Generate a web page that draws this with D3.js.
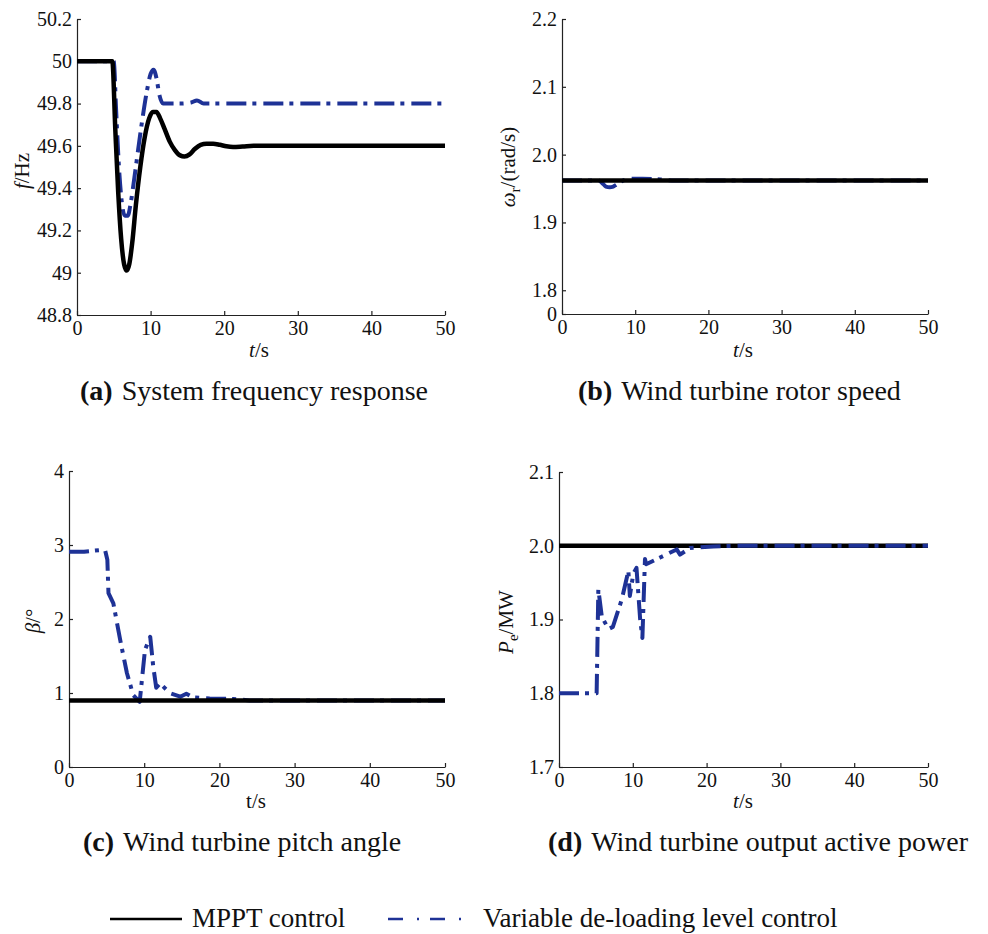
<!DOCTYPE html>
<html>
<head>
<meta charset="utf-8">
<script src="https://cdn.jsdelivr.net/npm/d3@7"></script>
<style>
  body { margin: 0; background: #fff; }
  text { font-family: "Liberation Serif", "Times New Roman", serif; fill: #111; }
</style>
</head>
<body>
<div class="graph"></div>
<script>
// tick values
let timeTicks = [0, 10, 20, 30, 40, 50]
let freqTicks = [48.8, 49, 49.2, 49.4, 49.6, 49.8, 50, 50.2]
let speedTicks = [1.765, 1.8, 1.9, 2.0, 2.1, 2.2]
let pitchTicks = [0, 1, 2, 3, 4]
let powerTicks = [1.7, 1.8, 1.9, 2.0, 2.1]

// (a) system frequency
let freqMpptT = [0, 4.8, 5.2, 5.6, 6.0, 6.4, 6.75, 7.1, 7.5, 8.0, 8.6, 9.2, 9.8, 10.3, 10.8, 11.3, 11.9, 12.6, 13.3, 14.0, 14.6, 15.3, 16.0, 16.8, 17.6, 18.5, 19.4, 20.3, 21.2, 22.5, 24, 30, 40, 50]
let freqMpptV = [50, 50, 49.68, 49.38, 49.16, 49.04, 49.01, 49.04, 49.14, 49.32, 49.50, 49.64, 49.73, 49.76, 49.76, 49.73, 49.68, 49.62, 49.58, 49.555, 49.55, 49.56, 49.585, 49.605, 49.61, 49.61, 49.605, 49.598, 49.595, 49.597, 49.6, 49.6, 49.6, 49.6]
let freqVarT = [0, 5.0, 5.3, 5.7, 6.1, 6.5, 6.9, 7.3, 7.8, 8.3, 8.9, 9.5, 10.0, 10.4, 10.8, 11.2, 11.7, 12.5, 14, 15.5, 16.3, 17.2, 18, 25, 50]
let freqVarV = [50, 50, 49.78, 49.5, 49.33, 49.27, 49.27, 49.33, 49.45, 49.58, 49.73, 49.86, 49.94, 49.96, 49.92, 49.84, 49.80, 49.80, 49.80, 49.805, 49.815, 49.80, 49.80, 49.80, 49.80]

// (b) rotor speed
let speedMpptT = [0, 50]
let speedMpptV = [1.962, 1.962]
let speedVarT = [0, 5, 5.5, 6, 6.5, 7, 7.5, 8, 8.6, 9.5, 11, 12.5, 13.8, 15, 50]
let speedVarV = [1.962, 1.962, 1.958, 1.953, 1.952, 1.953, 1.956, 1.96, 1.963, 1.9645, 1.9645, 1.964, 1.963, 1.962, 1.962]

// (c) pitch angle
let pitchMpptT = [0, 50]
let pitchMpptV = [0.9, 0.9]
let pitchVarT = [0, 2, 4, 4.8, 5.1, 5.25, 5.9, 6.8, 7.7, 8.55, 9.4, 10.1, 10.8, 11.2, 11.6, 12.1, 13.4, 14.8, 15.6, 16.5, 18.7, 21.8, 24, 50]
let pitchVarV = [2.91, 2.91, 2.93, 2.93, 2.8, 2.35, 2.21, 1.72, 1.27, 0.97, 0.88, 1.58, 1.76, 1.36, 1.07, 1.13, 1.0, 0.95, 0.99, 0.94, 0.925, 0.92, 0.9, 0.9]

// (d) output active power
let powerMpptT = [0, 50]
let powerMpptV = [2.0, 2.0]
let powerVarT = [0, 5.1, 5.33, 5.8, 6.7, 7.3, 8.5, 9.4, 9.6, 10.07, 10.5, 11.0, 11.3, 11.65, 11.8, 13.7, 15.95, 16.4, 17.75, 20.9, 24, 50]
let powerVarV = [1.8, 1.8, 1.941, 1.904, 1.887, 1.89, 1.927, 1.966, 1.932, 1.962, 1.97, 1.90, 1.875, 1.982, 1.975, 1.984, 1.995, 1.988, 1.997, 1.999, 2.0, 2.0]

let blue = '#1e3296'
let dashDot = '20,6,4,7'

let svg = d3.select('.graph')
  .append('svg')
  .attr('width', 988)
  .attr('height', 934)

svg.append('rect').attr('width', 988).attr('height', 934).attr('fill', '#fff')

let zip = (ts, vs) => ts.map((t, i) => ({ t: t, v: vs[i] }))

let panels = [
  { frame: [77, 19, 445, 315], yDomain: [48.8, 50.2], yTicks: freqTicks, fmt: d3.format('~g'),
    mppt: zip(freqMpptT, freqMpptV), vari: zip(freqVarT, freqVarV), smooth: true, blueOnTop: false,
    ylab: [['f', 'italic'], ['/Hz']], ylabPos: [29, 171],
    xlab: 'italic', xlabPos: [259, 357],
    cap: ['(a)', 'System frequency response'], capPos: [80, 400] },
  { frame: [562, 19, 928, 314], yDomain: [1.765, 2.2], yTicks: speedTicks, fmt: d => d < 1.79 ? '0' : d3.format('.1f')(d),
    mppt: zip(speedMpptT, speedMpptV), vari: zip(speedVarT, speedVarV), smooth: true, blueOnTop: false,
    ylab: [['ω', 'italic'], ['r', 'sub'], ['/(rad/s)']], ylabPos: [515, 167],
    xlab: 'italic', xlabPos: [743, 357],
    cap: ['(b)', 'Wind turbine rotor speed'], capPos: [578, 400] },
  { frame: [69, 471, 445, 767], yDomain: [0, 4], yTicks: pitchTicks, fmt: d3.format('d'),
    mppt: zip(pitchMpptT, pitchMpptV), vari: zip(pitchVarT, pitchVarV), smooth: false, blueOnTop: false,
    ylab: [['β', 'italic'], ['/°']], ylabPos: [40, 621],
    xlab: 'normal', xlabPos: [256, 808],
    cap: ['(c)', 'Wind turbine pitch angle'], capPos: [83, 851] },
  { frame: [559, 472, 928, 767], yDomain: [1.7, 2.1], yTicks: powerTicks, fmt: d3.format('.1f'),
    mppt: zip(powerMpptT, powerMpptV), vari: zip(powerVarT, powerVarV), smooth: false, blueOnTop: true,
    ylab: [['P', 'italic'], ['e', 'sub'], ['/MW']], ylabPos: [513, 622],
    xlab: 'italic', xlabPos: [743, 808],
    cap: ['(d)', 'Wind turbine output active power'], capPos: [548, 851] }
]

panels.forEach(p => {
  let [x0, y0, x1, y1] = p.frame
  let w = x1 - x0
  let h = y1 - y0
  let g = svg.append('g').attr('transform', `translate(${x0},${y0})`)

  // scales
  let xScale = d3.scaleLinear().domain([0, 50]).range([0, w])
  let yScale = d3.scaleLinear().domain(p.yDomain).range([h, 0])

  // axis
  let xAxis = d3.axisBottom(xScale).tickValues(timeTicks).tickSize(-4).tickSizeOuter(0).tickPadding(6)
  let yAxis = d3.axisLeft(yScale).tickValues(p.yTicks).tickFormat(p.fmt).tickSize(-4).tickSizeOuter(0).tickPadding(5)

  g.append('g').attr('transform', `translate(0,${h})`).call(xAxis)
  g.append('g').call(yAxis)

  g.selectAll('.domain, .tick line').attr('stroke', '#222').attr('stroke-width', 1.2)
  g.selectAll('.tick text').attr('font-size', 20).style('font-family', '"Liberation Serif", serif').attr('fill', '#111')

  // lines
  let line = d3.line()
    .x(d => xScale(d.t))
    .y(d => yScale(d.v))
    .curve(p.smooth ? d3.curveMonotoneX : d3.curveLinear)

  let drawBlack = () => g.append('path')
    .attr('d', line(p.mppt))
    .attr('fill', 'none')
    .attr('stroke', '#000')
    .attr('stroke-width', 4.5)
  let drawBlue = () => g.append('path')
    .attr('d', line(p.vari))
    .attr('fill', 'none')
    .attr('stroke', blue)
    .attr('stroke-width', 4)
    .attr('stroke-dasharray', dashDot)
    .attr('stroke-linejoin', 'round')

  if (p.blueOnTop) { drawBlack(); drawBlue() } else { drawBlue(); drawBlack() }

  // y label
  let yl = svg.append('text')
    .attr('transform', `translate(${p.ylabPos[0]},${p.ylabPos[1]}) rotate(-90)`)
    .attr('text-anchor', 'middle')
    .attr('font-size', 21)
  p.ylab.forEach(part => {
    let ts = yl.append('tspan').text(part[0])
    if (part[1] === 'italic') ts.attr('font-style', 'italic')
    if (part[1] === 'sub') ts.attr('font-size', 15).attr('dy', 5)
    else if (part[0].startsWith('/') && p.ylab.some(q => q[1] === 'sub')) ts.attr('dy', -5)
  })

  // x label
  let xl = svg.append('text')
    .attr('x', p.xlabPos[0]).attr('y', p.xlabPos[1])
    .attr('text-anchor', 'middle')
    .attr('font-size', 21)
  xl.append('tspan').text('t').attr('font-style', p.xlab)
  xl.append('tspan').text('/s')

  // caption
  let cap = svg.append('text')
    .attr('x', p.capPos[0]).attr('y', p.capPos[1])
    .attr('font-size', 28)
  cap.append('tspan').text(p.cap[0]).attr('font-weight', 'bold')
  cap.append('tspan').text(p.cap[1]).attr('dx', 9)
})

// legend
let legend = svg.append('g')
legend.append('line').attr('x1', 110).attr('x2', 182).attr('y1', 919).attr('y2', 919)
  .attr('stroke', '#000').attr('stroke-width', 2.5)
legend.append('text').attr('x', 192).attr('y', 927).attr('font-size', 27).text('MPPT control')
legend.append('line').attr('x1', 388).attr('x2', 472).attr('y1', 919).attr('y2', 919)
  .attr('stroke', blue).attr('stroke-width', 2.5).attr('stroke-dasharray', '15,14,2,11')
legend.append('text').attr('x', 483).attr('y', 927).attr('font-size', 27).text('Variable de-loading level control')
</script>
</body>
</html>
